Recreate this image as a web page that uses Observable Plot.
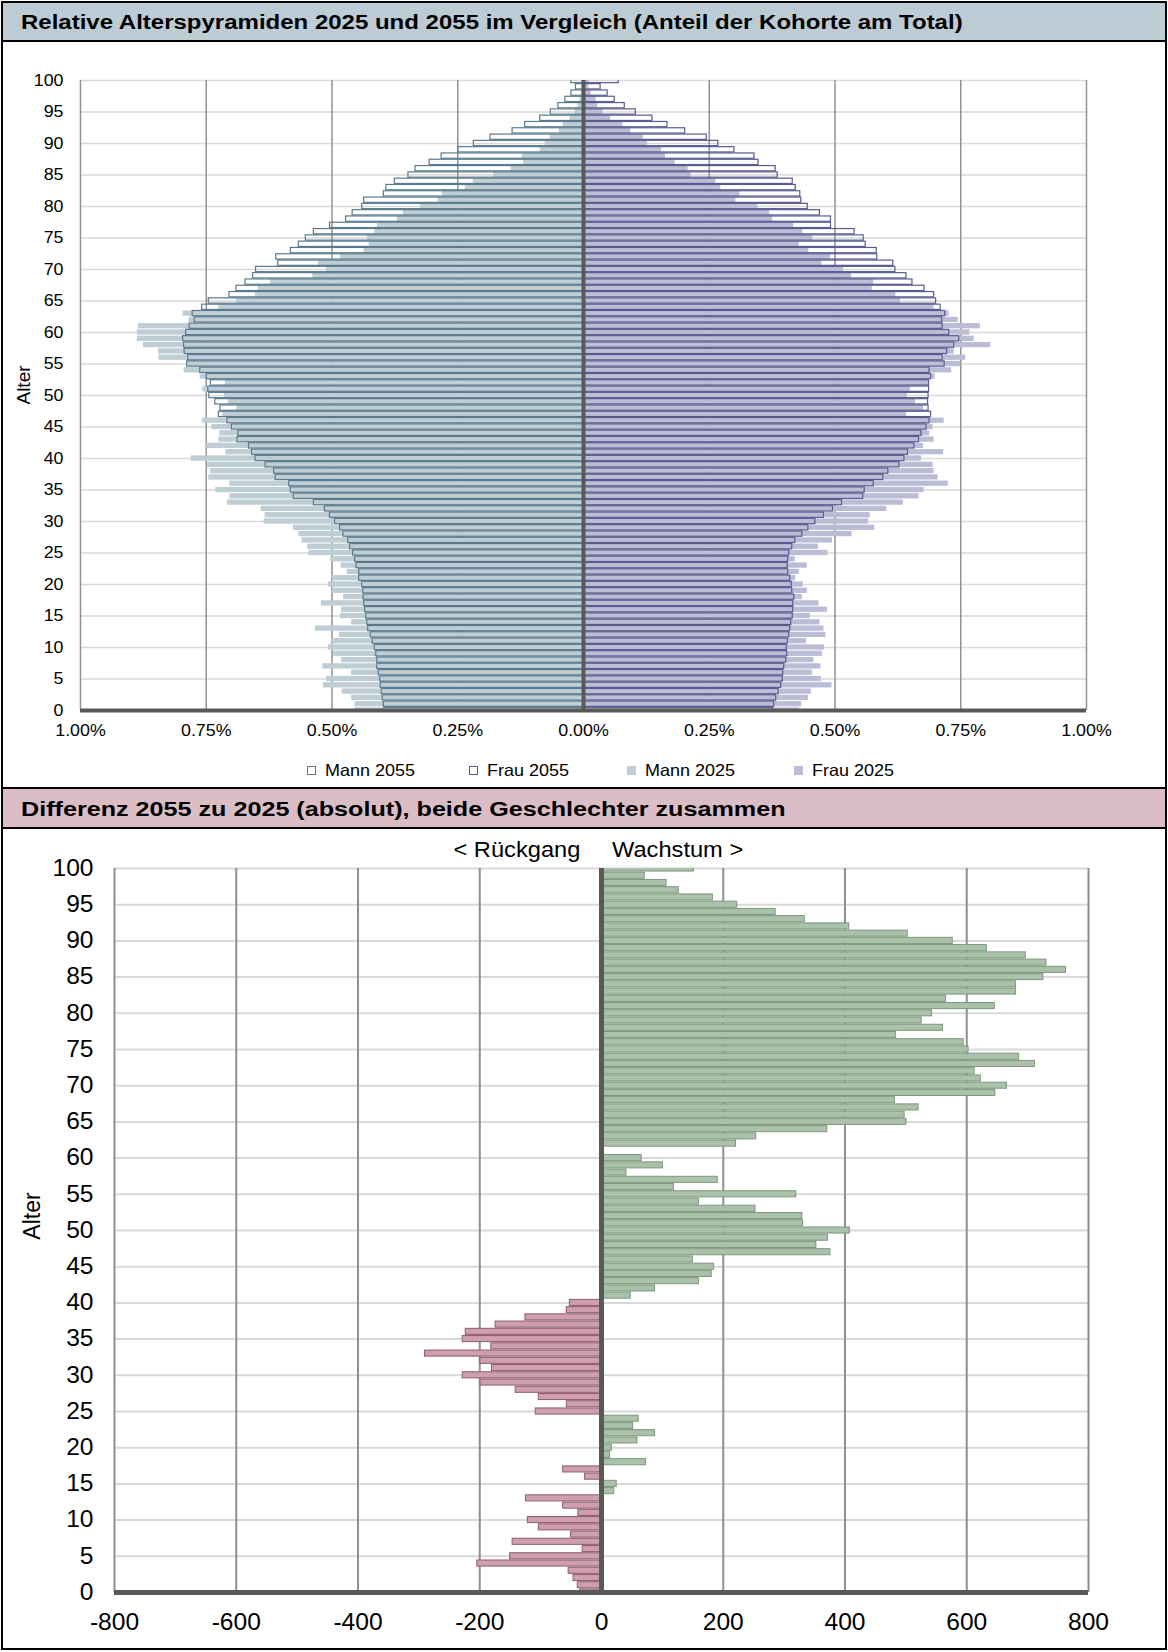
<!DOCTYPE html>
<html><head><meta charset="utf-8">
<script src="https://cdn.jsdelivr.net/npm/d3@7"></script>
<script src="https://cdn.jsdelivr.net/npm/@observablehq/plot@0.6"></script>
<style>
html,body{margin:0;padding:0;background:#fff;overflow:hidden;}
#page{position:relative;width:1168px;height:1652px;overflow:hidden;font-family:"Liberation Sans",Arial,sans-serif;color:#000;}
.box{position:absolute;box-sizing:border-box;}
.t{position:absolute;white-space:nowrap;line-height:1;}
.sq{position:absolute;box-sizing:border-box;width:9px;height:9px;}
</style></head><body>
<div id="page">
  <div class="box" style="left:1px;top:1px;width:1166px;height:41px;background:#bdccd4;border-bottom:2px solid #000;"></div>
  <div class="box" style="left:1px;top:787px;width:1166px;height:42px;background:#dbbdc6;border-top:2px solid #000;border-bottom:2px solid #000;"></div>
  <div id="chart1" class="box" style="left:0;top:41px;"></div>
  <div id="chart2" class="box" style="left:0;top:828px;"></div>

  <div class="t" style="left:21px;top:22px;transform:translateY(-50%) scaleX(1.2);transform-origin:left center;font-weight:bold;font-size:20px;">Relative Alterspyramiden 2025 und 2055 im Vergleich (Anteil der Kohorte am Total)</div>
  <div class="t" style="left:21px;top:809px;transform:translateY(-50%) scaleX(1.24);transform-origin:left center;font-weight:bold;font-size:20.3px;">Differenz 2055 zu 2025 (absolut), beide Geschlechter zusammen</div>

  <div class="t" style="left:23px;top:385px;transform:translate(-50%,-50%) rotate(-90deg);font-size:19px;">Alter</div>
  <div class="t" style="left:32px;top:1216px;transform:translate(-50%,-50%) rotate(-90deg);font-size:23px;">Alter</div>

  <div class="t" style="right:588px;top:851px;transform:translateY(-50%) scaleX(1.1);transform-origin:right center;font-size:21.5px;">&lt; Rückgang</div>
  <div class="t" style="left:612px;top:851px;transform:translateY(-50%) scaleX(1.1);transform-origin:left center;font-size:21.5px;">Wachstum &gt;</div>

  <div id="legend"></div>

  <div class="box" style="left:1px;top:1px;width:1166px;height:1649px;border:2px solid #000;"></div>
</div>
<script>
// ---- categories ----
const ages = [100,99,98,97,96,95,94,93,92,91,90,89,88,87,86,85,84,83,82,81,80,79,78,77,76,75,74,73,72,71,70,69,68,67,66,65,64,63,62,61,60,59,58,57,56,55,54,53,52,51,50,49,48,47,46,45,44,43,42,41,40,39,38,37,36,35,34,33,32,31,30,29,28,27,26,25,24,23,22,21,20,19,18,17,16,15,14,13,12,11,10,9,8,7,6,5,4,3,2,1,0];

// ---- series (% of total), ordered like ages ----
const mann2055 = [0.024,0.015,0.024,0.036,0.050,0.065,0.086,0.116,0.141,0.185,
  0.218,0.249,0.282,0.306,0.334,0.348,0.375,0.392,0.397,0.436,
  0.440,0.459,0.472,0.504,0.536,0.552,0.566,0.582,0.611,0.607,
  0.651,0.657,0.672,0.690,0.704,0.745,0.758,0.777,0.773,0.783,
  0.790,0.796,0.794,0.793,0.786,0.788,0.762,0.749,0.741,0.746,
  0.744,0.732,0.722,0.725,0.708,0.699,0.686,0.688,0.665,0.659,
  0.652,0.632,0.615,0.612,0.585,0.582,0.576,0.536,0.514,0.504,
  0.494,0.484,0.477,0.468,0.464,0.458,0.454,0.451,0.446,0.446,
  0.440,0.438,0.437,0.436,0.434,0.432,0.430,0.428,0.423,0.419,
  0.415,0.412,0.410,0.410,0.407,0.404,0.403,0.401,0.399,0.397,
  0.396];
const mann2025 = [0.004,0.003,0.004,0.007,0.011,0.017,0.027,0.040,0.048,0.066,
  0.076,0.086,0.121,0.119,0.144,0.179,0.219,0.235,0.281,0.289,
  0.324,0.358,0.370,0.410,0.415,0.430,0.426,0.436,0.483,0.527,
  0.511,0.538,0.622,0.647,0.652,0.690,0.725,0.796,0.784,0.885,
  0.887,0.887,0.875,0.845,0.844,0.786,0.794,0.762,0.712,0.757,
  0.714,0.706,0.689,0.717,0.757,0.739,0.723,0.725,0.749,0.711,
  0.780,0.747,0.741,0.745,0.703,0.731,0.703,0.708,0.641,0.633,
  0.635,0.577,0.566,0.560,0.548,0.546,0.503,0.482,0.470,0.499,
  0.507,0.499,0.477,0.521,0.481,0.483,0.461,0.533,0.485,0.500,
  0.507,0.497,0.481,0.518,0.461,0.511,0.517,0.480,0.461,0.454,
  0.454];
const frau2055 = [0.070,0.034,0.048,0.062,0.082,0.104,0.137,0.167,0.202,0.245,
  0.268,0.300,0.340,0.348,0.382,0.386,0.416,0.422,0.431,0.433,
  0.446,0.470,0.492,0.492,0.539,0.557,0.561,0.583,0.584,0.616,
  0.620,0.642,0.654,0.678,0.697,0.701,0.710,0.719,0.713,0.714,
  0.727,0.747,0.737,0.723,0.714,0.718,0.688,0.691,0.687,0.687,
  0.686,0.685,0.686,0.691,0.688,0.682,0.672,0.667,0.658,0.645,
  0.638,0.628,0.606,0.596,0.577,0.559,0.556,0.514,0.496,0.478,
  0.461,0.447,0.435,0.421,0.415,0.409,0.407,0.406,0.407,0.411,
  0.414,0.415,0.419,0.417,0.417,0.416,0.413,0.411,0.409,0.406,
  0.404,0.405,0.403,0.399,0.397,0.396,0.393,0.388,0.383,0.379,
  0.377];
const frau2025 = [0.012,0.011,0.015,0.025,0.028,0.039,0.054,0.078,0.094,0.119,
  0.127,0.155,0.163,0.182,0.208,0.214,0.263,0.273,0.311,0.303,
  0.347,0.370,0.376,0.418,0.436,0.456,0.429,0.448,0.491,0.474,
  0.517,0.533,0.577,0.574,0.621,0.630,0.697,0.727,0.745,0.789,
  0.768,0.777,0.810,0.737,0.760,0.750,0.732,0.699,0.688,0.650,
  0.644,0.660,0.676,0.642,0.717,0.695,0.688,0.697,0.676,0.716,
  0.672,0.695,0.697,0.705,0.725,0.677,0.667,0.636,0.603,0.570,
  0.567,0.579,0.534,0.495,0.467,0.486,0.421,0.445,0.429,0.422,
  0.437,0.445,0.435,0.468,0.485,0.451,0.470,0.478,0.482,0.443,
  0.479,0.475,0.458,0.472,0.455,0.473,0.494,0.453,0.447,0.434,
  0.430];
// ---- absolute difference 2055 - 2025, ordered like ages ----
const differenz = [152,71,107,127,183,223,286,334,407,503,
  577,633,697,731,763,726,681,681,566,646,
  543,526,561,484,595,603,686,712,613,623,
  666,647,482,521,498,501,371,254,221,0,
  66,101,41,191,119,320,160,253,330,331,
  408,372,353,376,150,185,181,160,88,48,
  -52,-57,-125,-174,-223,-228,-181,-290,-199,-180,
  -228,-199,-141,-103,-57,-108,61,52,88,59,
  17,14,73,-63,-27,25,21,-124,-63,-38,
  -121,-103,-50,-146,-31,-150,-204,-54,-46,-39,
  -35];

// ---- tick labels ----
const ageTicks = [0,5,10,15,20,25,30,35,40,45,50,55,60,65,70,75,80,85,90,95,100];
const pctTicks = [-1,-0.75,-0.5,-0.25,0,0.25,0.5,0.75,1];
const absTicks = [-800,-600,-400,-200,0,200,400,600,800];
const legendItems = [
  {label:"Mann 2055", kind:"outline", color:"#5b7b8d", x:307},
  {label:"Frau 2055", kind:"outline", color:"#5a5b8f", x:469},
  {label:"Mann 2025", kind:"fill", color:"#bfcdd5", x:627},
  {label:"Frau 2025", kind:"fill", color:"#bcbcd7", x:794}
];

const pyr = ages.map((a,i)=>({age:a, m55:mann2055[i], m25:mann2025[i], f55:frau2055[i], f25:frau2025[i]}));
const dif = ages.map((a,i)=>({age:a, v:differenz[i]}));
const half = 0.42;
const font = '"Liberation Sans",Arial,sans-serif';

function stretch(svg, s){
  svg.querySelectorAll("text").forEach(t=>{
    const tr = t.getAttribute("transform");
    if (tr) t.setAttribute("transform", tr + ` scale(${s},1)`);
    else {
      const x = +(t.getAttribute("x")||0);
      t.setAttribute("x", x/s);
      t.setAttribute("transform", `scale(${s},1)`);
    }
  });
}

const chart1 = Plot.plot({
  width:1168, height:705, marginLeft:80, marginRight:82, marginTop:39, marginBottom:36,
  style:{fontFamily:font, fontSize:"16.5px", color:"#000", background:"transparent", overflow:"visible"},
  x:{domain:[-1,1]},
  y:{domain:[0,100]},
  marks:[
    Plot.gridY(ageTicks,{stroke:"#d9d9d9", strokeOpacity:1, strokeWidth:1.5}),
    Plot.gridX(pctTicks,{stroke:"#929292", strokeOpacity:1, strokeWidth:1.5}),
    Plot.rect(pyr,{x1:0, x2:d=>-d.m25, y1:d=>d.age-half, y2:d=>d.age+half, fill:"#bfcdd5", clip:true}),
    Plot.rect(pyr,{x1:0, x2:d=>d.f25, y1:d=>d.age-half, y2:d=>d.age+half, fill:"#bcbcd7", clip:true}),
    Plot.rect(pyr,{x1:0, x2:d=>-d.m55, y1:d=>d.age-half, y2:d=>d.age+half, fill:"none", stroke:"#5b7b8d", strokeWidth:1.2, clip:true}),
    Plot.rect(pyr,{x1:0, x2:d=>d.f55, y1:d=>d.age-half, y2:d=>d.age+half, fill:"none", stroke:"#5a5b8f", strokeWidth:1.2, clip:true}),
    Plot.ruleX([0],{stroke:"#595959", strokeWidth:4}),
    Plot.ruleY([0],{stroke:"#595959", strokeWidth:4}),
    Plot.axisX(pctTicks,{tickSize:0, tickPadding:14, label:null, tickFormat:d=>Math.abs(d).toFixed(2)+"%"}),
    Plot.axisY(ageTicks,{tickSize:0, tickPadding:17, label:null, tickFormat:d=>String(d)})
  ]
});
stretch(chart1, 1.08);
document.getElementById("chart1").appendChild(chart1);

const chart2 = Plot.plot({
  width:1168, height:820, marginLeft:114, marginRight:80, marginTop:40, marginBottom:56,
  style:{fontFamily:font, fontSize:"23px", color:"#000", background:"transparent", overflow:"visible"},
  x:{domain:[-800,800]},
  y:{domain:[0,100]},
  marks:[
    Plot.gridY(ageTicks,{stroke:"#d9d9d9", strokeOpacity:1, strokeWidth:2}),
    Plot.gridX(absTicks,{stroke:"#8f8f8f", strokeOpacity:1, strokeWidth:2}),
    Plot.rect(dif,{x1:0, x2:d=>d.v, y1:d=>d.age-half, y2:d=>d.age+half,
      fill:d=>d.v<0?"#cf9fae":"#a9c2a9", stroke:d=>d.v<0?"#8d5d6c":"#7f967f", strokeWidth:1, clip:true}),
    Plot.ruleX([0],{stroke:"#595959", strokeWidth:5}),
    Plot.ruleY([0],{stroke:"#595959", strokeWidth:5}),
    Plot.axisX(absTicks,{tickSize:0, tickPadding:21, label:null, tickFormat:d=>String(d)}),
    Plot.axisY(ageTicks,{tickSize:0, tickPadding:21, label:null, tickFormat:d=>String(d)})
  ]
});
stretch(chart2, 1.07);
document.getElementById("chart2").appendChild(chart2);

// legend
const lg = document.getElementById("legend");
legendItems.forEach(it=>{
  const sq = document.createElement("div");
  sq.className = "sq";
  sq.style.left = it.x + "px";
  sq.style.top = "766px";
  if (it.kind === "outline") { sq.style.border = "1.3px solid " + it.color; sq.style.background = "#fff"; }
  else { sq.style.background = it.color; }
  lg.appendChild(sq);
  const tx = document.createElement("div");
  tx.className = "t";
  tx.textContent = it.label;
  tx.style.left = (it.x + 18) + "px";
  tx.style.top = "770px";
  tx.style.fontSize = "16.5px";
  tx.style.transform = "translateY(-50%) scaleX(1.09)";
  tx.style.transformOrigin = "left center";
  lg.appendChild(tx);
});
</script>
</body></html>
